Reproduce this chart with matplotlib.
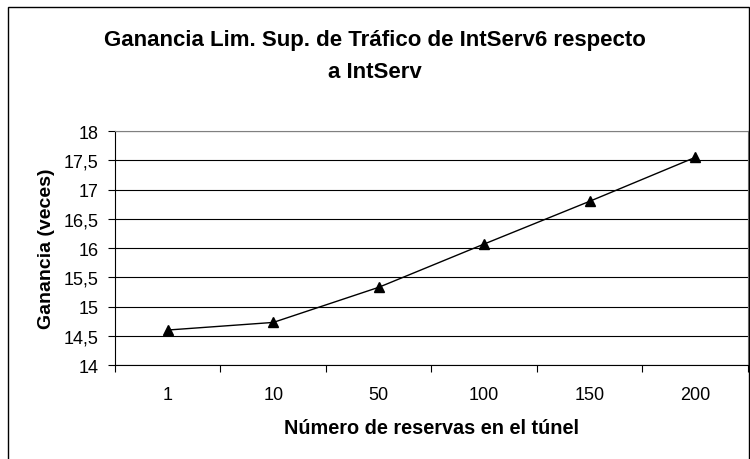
import numpy as np
import matplotlib.pyplot as plt
from matplotlib.patches import Rectangle
from matplotlib.ticker import FuncFormatter

plt.rcParams['font.family'] = ['Liberation Sans', 'DejaVu Sans']

# Gain of IntServ6 over IntServ for each number of reservations
reservas = ['1', '10', '50', '100', '150', '200']
ganancia = [14.60, 14.73, 15.33, 16.07, 16.80, 17.55]
y_ticks = [14, 14.5, 15, 15.5, 16, 16.5, 17, 17.5, 18]

fig = plt.figure(figsize=(7.5, 4.6), dpi=100)
ax = fig.add_axes([0.1533, 0.204, 0.844, 0.509])

x = np.arange(len(reservas))
ax.plot(x, ganancia, color='black', linewidth=1, marker='^', markersize=7)

ax.set_xlim(-0.5, len(reservas) - 0.5)
ax.set_ylim(14, 18)
ax.set_yticks(y_ticks)
ax.yaxis.set_major_formatter(FuncFormatter(lambda v, p: f'{v:g}'.replace('.', ',')))
ax.grid(axis='y', color='black', linewidth=0.8)
ax.set_axisbelow(True)

# category labels centred, tick marks on the boundaries
ax.set_xticks(x)
ax.set_xticklabels(reservas)
ax.set_xticks(np.arange(-0.5, len(reservas)), minor=True)
ax.tick_params(axis='x', which='major', length=0, pad=15, labelsize=13)
ax.tick_params(axis='x', which='minor', length=5, direction='out', width=0.8)
ax.tick_params(axis='y', length=5, direction='out', width=0.8, labelsize=13, pad=7)

for side in ['top', 'right']:
    ax.spines[side].set_color('#808080')
for side in ['left', 'bottom']:
    ax.spines[side].set_color('black')

ax.set_xlabel('Número de reservas en el túnel', fontsize=14.3, fontweight='bold', labelpad=11)
ax.set_ylabel('Ganancia (veces)', fontsize=14, fontweight='bold', labelpad=6)

fig.text(0.5, 0.913, 'Ganancia Lim. Sup. de Tráfico de IntServ6 respecto', ha='center', va='center',
         fontsize=16, fontweight='bold')
fig.text(0.5, 0.843, 'a IntServ', ha='center', va='center', fontsize=16, fontweight='bold')

# chart frame
fig.patches.append(Rectangle((0.0107, -0.01), 0.988, 0.9926, transform=fig.transFigure,
                             fill=False, edgecolor='black', linewidth=1))

fig.savefig('out.png', dpi=100)
